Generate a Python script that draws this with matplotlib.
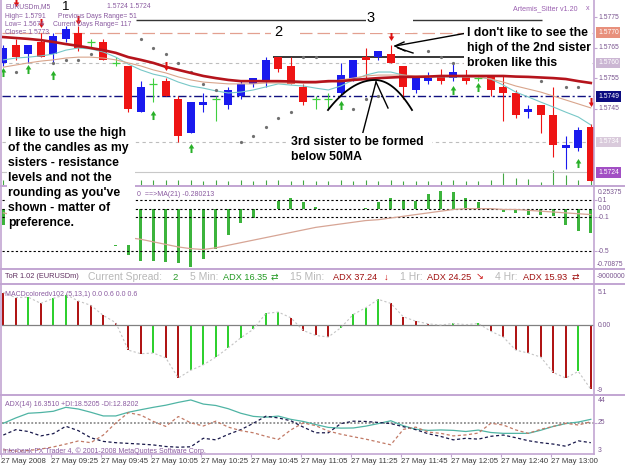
import numpy as np
import matplotlib
matplotlib.use("Agg")
import matplotlib.pyplot as plt
from matplotlib.patches import Rectangle
from matplotlib.lines import Line2D
from matplotlib.transforms import Affine2D

plt.rcParams["font.family"] = ["Liberation Sans", "DejaVu Sans"]

W, H = 625, 469
STEP, BAR0 = 12.5, 3.3          # bar spacing / first bar centre (px)
PLOT_L, PLOT_R = 2, 594         # chart windows, left/right edge (px)

# colours
BULL, BEAR, DOJI = "#1a1aee", "#ee1414", "#3fcf3f"
FRAME = "#c2a5d2"
AXTXT = "#7a5590"
INFO = "#8a5aa0"
nan = np.nan

# ---------------- data: EURUSDm M5, 27 May 2008 ----------------
opens = [1.5760, 1.5766, 1.5763, 1.5767, 1.5763, 1.5768, 1.5770, 1.5767, 1.5767, 1.5760,
         1.5759, 1.5744, 1.5753, 1.5754, 1.5748, 1.5737, 1.5746, 1.5748, 1.5746, 1.5749,
         1.5753, 1.5754, 1.5762, 1.5759, 1.5752, 1.5748, 1.5748, 1.5750, 1.5754, 1.5762,
         1.5762, 1.5763, 1.5759, 1.5751, 1.5754, 1.5756, 1.5755, 1.5756, 1.5755, 1.5756,
         1.5752, 1.5750, 1.5744, 1.5746, 1.5743, 1.5732, 1.5732, 1.5739]
highs = [1.5766, 1.5768, 1.5766, 1.5770, 1.5770, 1.5772, 1.5772, 1.5768, 1.5768, 1.5762,
         1.5759, 1.5754, 1.5755, 1.5755, 1.5749, 1.5747, 1.5750, 1.5749, 1.5752, 1.5754,
         1.5755, 1.5762, 1.5762, 1.5762, 1.5753, 1.5749, 1.5750, 1.5760, 1.5761, 1.5765,
         1.5764, 1.5766, 1.5759, 1.5755, 1.5757, 1.5758, 1.5760, 1.5758, 1.5756, 1.5756,
         1.5756, 1.5751, 1.5746, 1.5746, 1.5752, 1.5736, 1.5739, 1.5740]
lows = [1.5759, 1.5761, 1.5760, 1.5762, 1.5760, 1.5767, 1.5764, 1.5765, 1.5761, 1.5759,
        1.5744, 1.5744, 1.5747, 1.5749, 1.5734, 1.5737, 1.5744, 1.5741, 1.5745, 1.5748,
        1.5752, 1.5752, 1.5757, 1.5753, 1.5746, 1.5745, 1.5745, 1.5749, 1.5754, 1.5755,
        1.5761, 1.5760, 1.5748, 1.5750, 1.5753, 1.5753, 1.5754, 1.5753, 1.5754, 1.5749,
        1.5741, 1.5742, 1.5742, 1.5737, 1.5729, 1.5725, 1.5731, 1.5721]
closes = [1.5765, 1.5762, 1.5766, 1.5762, 1.5769, 1.5771, 1.5765, 1.5767, 1.5761, 1.5760,
          1.5745, 1.5752, 1.5753, 1.5749, 1.5736, 1.5747, 1.5747, 1.5748, 1.5751, 1.5753,
          1.5755, 1.5761, 1.5758, 1.5753, 1.5747, 1.5748, 1.5748, 1.5756, 1.5761, 1.5761,
          1.5764, 1.5760, 1.5752, 1.5755, 1.5755, 1.5754, 1.5757, 1.5754, 1.5755, 1.5751,
          1.5750, 1.5743, 1.5745, 1.5743, 1.5733, 1.5733, 1.5738, 1.5721]

ma_slow = [1.57685, 1.57682, 1.57679, 1.57675, 1.57669, 1.57662, 1.57656, 1.57649, 1.57642, 1.57633,
           1.57619, 1.57610, 1.57600, 1.57587, 1.57577, 1.57567, 1.57557, 1.57550, 1.57544, 1.57540,
           1.57540, 1.57540, 1.57540, 1.57539, 1.57537, 1.57537, 1.57540, 1.57540, 1.57544, 1.57547,
           1.57550, 1.57552, 1.57554, 1.57554, 1.57555, 1.57557, 1.57557, 1.57557, 1.57557, 1.57557,
           1.57557, 1.57555, 1.57554, 1.57552, 1.57550, 1.57547, 1.57540, 1.57534]
ma_fast = [1.57610, 1.57616, 1.57619, 1.57623, 1.57629, 1.57642, 1.57649, 1.57646, 1.57636, 1.57619,
           1.57596, 1.57577, 1.57563, 1.57554, 1.57537, 1.57524, 1.57517, 1.57508, 1.57501, 1.57504,
           1.57511, 1.57521, 1.57531, 1.57527, 1.57524, 1.57517, 1.57511, 1.57524, 1.57544, 1.57560,
           1.57570, 1.57570, 1.57560, 1.57554, 1.57554, 1.57554, 1.57554, 1.57554, 1.57554, 1.57547,
           1.57527, 1.57504, 1.57488, 1.57471, 1.57455, 1.57438, 1.57422, 1.57396]
ma_mid = [1.57586, 1.57593, 1.57600, 1.57606, 1.57610, 1.57616, 1.57619, 1.57619, 1.57616, 1.57610,
          1.57600, 1.57590, 1.57577, 1.57567, 1.57554, 1.57544, 1.57537, 1.57534, 1.57531, 1.57531,
          1.57531, 1.57534, 1.57534, 1.57534, 1.57534, 1.57534, 1.57537, 1.57544, 1.57550, 1.57557,
          1.57560, 1.57560, 1.57560, 1.57557, 1.57557, 1.57557, 1.57557, 1.57554, 1.57554, 1.57547,
          1.57537, 1.57524, 1.57514, 1.57504, 1.57491, 1.57478, 1.57465, 1.57452]
sar = [nan, 1.5757, nan, nan, 1.5760, 1.5761, 1.5761, 1.5763, nan, nan,
       nan, 1.5768, 1.5765, 1.5763, 1.5760, 1.5757, 1.5753, 1.5751, nan, 1.5734,
       1.5736, 1.5739, 1.5742, 1.5744, 1.5762, 1.5762, nan, nan, 1.5745, 1.5748,
       1.5749, nan, nan, nan, 1.5764, 1.5762, 1.5760, nan, nan, nan,
       nan, nan, nan, 1.5754, nan, 1.5752, 1.5752, nan]
up_bars = [0, 2, 4, 12, 15, 27, 36, 38, 46]
up_price = [1.5757, 1.5758, 1.5756, 1.5743, 1.5732, 1.5746, 1.5751, 1.5752, 1.5727]
dn_bars = [1, 3, 6, 13, 31, 37, 47]
dn_price = [1.5780, 1.5773, 1.5774, 1.5759, 1.5769, 1.5760, 1.5747]
volumes = [55, 50, 60, 55, 50, 60, 55, 50, 55, 60, 65, 55, 60, 55, 60, 55, 50, 55, 50, 55,
           50, 60, 55, 50, 55, 50, 45, 55, 50, 55, 50, 55, 50, 45, 50, 50, 55, 50, 45, 60,
           130, 80, 70, 40, 160, 110, 60, 150]
price_ticks = [1.5775, 1.5765, 1.5755, 1.5745]
level_prices = [1.5770, 1.5760, 1.5749, 1.5734, 1.5724]
level_boxes = ["#e8907c", "#cbb6d3", "#0c0c80", "#d9cadb", "#a24fc4"]

osma = [-0.19, -0.18, -0.15, -0.12, -0.10, -0.08, -0.05, -0.10, -0.20, -0.44,
        -0.55, -0.61, -0.61, -0.63, -0.64, -0.68, -0.59, -0.47, -0.31, -0.17,
        -0.11, -0.01, 0.09, 0.13, 0.08, 0.02, 0.0, 0.0, 0.0, 0.01,
        0.08, 0.13, 0.10, 0.09, 0.17, 0.21, 0.20, 0.13, 0.08, 0.01,
        -0.04, -0.05, -0.07, -0.08, -0.09, -0.19, -0.26, -0.29]
osma_ma = [-0.05, -0.08, -0.11, -0.14, -0.17, -0.20, -0.23, -0.26, -0.29, -0.32,
           -0.34, -0.36, -0.39, -0.42, -0.45, -0.47, -0.48, -0.46, -0.43, -0.40,
           -0.37, -0.34, -0.31, -0.28, -0.25, -0.22, -0.20, -0.18, -0.16, -0.14,
           -0.13, -0.11, -0.09, -0.07, -0.05, -0.03, -0.01, 0.0, 0.0, 0.0,
           -0.01, -0.01, -0.02, -0.03, -0.04, -0.05, -0.06, -0.07]
osma_levels = [0.1, 0.0, -0.1, -0.5]

macd = [4.25, 3.6, 3.65, 2.85, 3.5, 4.0, 3.16, 2.6, 1.29, 0.35,
        -3.2, -3.66, -3.57, -4.2, -6.8, -5.8, -5.1, -4.1, -2.9, -1.6,
        -0.5, 1.55, 1.73, 0.99, -0.66, -1.3, -1.5, -0.3, 1.42, 2.29,
        3.37, 2.85, 1.12, 0.55, 0.2, 0.05, 0.25, 0.1, 0.25, -0.75,
        -1.5, -3.2, -3.57, -4.1, -6.1, -6.8, -5.95, -8.25]

adx_main = [24.7, 28.5, 31.8, 32.3, 33.2, 36.0, 34.8, 32.5, 29.9, 29.9,
            32.5, 34.3, 36.0, 37.5, 39.5, 41.2, 38.3, 37.3, 35.0, 31.8,
            29.6, 29.0, 29.8, 27.5, 26.0, 23.8, 21.8, 21.3, 21.4, 22.7,
            24.5, 26.5, 23.0, 20.5, 19.7, 20.0, 19.7, 18.9, 19.9, 18.2,
            17.6, 17.6, 17.6, 19.8, 22.5, 24.5, 25.6, 27.5]
plus_di = [16.4, 20.2, 18.9, 15.8, 17.4, 22.6, 19.5, 14.5, 11.9, 11.0,
           10.5, 10.0, 9.4, 8.3, 7.8, 8.1, 14.1, 13.0, 16.9, 20.2,
           24.7, 29.7, 28.5, 26.5, 22.0, 18.0, 18.0, 24.5, 26.2, 26.0,
           25.3, 24.5, 22.3, 20.2, 17.3, 15.4, 13.0, 14.1, 13.5, 15.5,
           16.4, 14.5, 12.4, 11.0, 10.0, 8.5, 12.3, 11.0]
minus_di = [6.0, 5.0, 5.5, 6.5, 8.0, 10.0, 12.2, 11.0, 16.4, 25.0,
            32.2, 30.5, 26.0, 22.5, 29.5, 25.0, 22.8, 26.2, 22.0, 19.5,
            18.0, 15.5, 13.3, 20.0, 25.0, 23.0, 19.2, 17.0, 15.2, 13.5,
            11.5, 9.5, 20.4, 22.0, 18.5, 17.6, 15.8, 16.5, 17.8, 24.7,
            23.5, 20.0, 17.6, 20.5, 22.5, 24.7, 23.5, 25.8]

date_bars = [0, 4, 8, 12, 16, 20, 24, 28, 32, 36, 40, 44]
date_labels = ["27 May 2008", "27 May 09:25", "27 May 09:45", "27 May 10:05",
               "27 May 10:25", "27 May 10:45", "27 May 11:05", "27 May 11:25",
               "27 May 11:45", "27 May 12:05", "27 May 12:40", "27 May 13:00"]

# ---------------- figure helpers ----------------
fig = plt.figure(figsize=(W / 100, H / 100), dpi=100)
fig.patch.set_facecolor("white")
PX = Affine2D().scale(1 / W, -1 / H).translate(0, 1) + fig.transFigure
LBL_X = (598 - PLOT_L) / (PLOT_R - PLOT_L)


def window(y0, y1, ylim):
    ax = fig.add_axes([PLOT_L / W, 1 - y1 / H, (PLOT_R - PLOT_L) / W, (y1 - y0) / H])
    ax.set_xlim((PLOT_L - BAR0) / STEP, (PLOT_R - BAR0) / STEP)
    ax.set_ylim(*ylim)
    ax.set_axis_off()
    return ax


def ptext(x, y, s, size=5, color=INFO, **kw):
    kw.setdefault("va", "center")
    return fig.text(x, y, s, transform=PX, fontsize=size, color=color, **kw)


def pline(xs, ys, **kw):
    fig.add_artist(Line2D(xs, ys, transform=PX, **kw))


def white_box(x0, y0, x1, y1):
    fig.add_artist(Rectangle((x0, y0), x1 - x0, y1 - y0, transform=PX,
                             fc="white", ec="none", zorder=4))


def scale(ax, values, fmt, **kw):
    tr = ax.get_yaxis_transform()
    for v in values:
        ax.text(LBL_X, v, fmt.format(v), transform=tr, va="center", ha="left",
                fontsize=4.9, color=AXTXT, clip_on=False, **kw)
    ax.hlines(values, 1.0, 1.005, transform=tr, color=FRAME, lw=0.8, clip_on=False)


x = np.arange(len(opens))
o, h, l, c = (np.array(a) for a in (opens, highs, lows, closes))
up, dn = c > o + 1e-9, c < o - 1e-9
dj = ~(up | dn)

# ---------------- main window ----------------
ax_vol = window(0, 186, (0, 1860))
ax_vol.vlines(x, 0, volumes, color="#45a845", lw=0.8)

ax = window(0, 186, (1.57195, 1.57807))
ax.axhline(1.5770, color="#e3a090", lw=0.9, dashes=(10, 4))
ax.axhline(1.5760, color="#bdbdbd", lw=0.8, dashes=(3, 3))
ax.axhline(1.5749, color="#101080", lw=1.0, dashes=(6, 2, 1.5, 2))
ax.axhline(1.5734, color="#bdbdbd", lw=0.8, dashes=(3, 3))
ax.axhline(1.5724, color="#c8c8c8", lw=0.8)
ax.hlines(1.5774, 10.6, 43.1, color="#353535", lw=1.0)
ax.hlines(highs[22], 21.6, 37.1, color="black", lw=1.1)

ax.vlines(x[up], l[up], h[up], color=BULL, lw=0.8, zorder=3)
ax.bar(x[up], c[up] - o[up], bottom=o[up], width=0.62, color=BULL, zorder=4)
ax.vlines(x[dn], l[dn], h[dn], color=BEAR, lw=0.8, zorder=3)
ax.bar(x[dn], o[dn] - c[dn], bottom=c[dn], width=0.62, color=BEAR, zorder=4)
ax.vlines(x[dj], l[dj], h[dj], color=DOJI, lw=0.8, zorder=3)
ax.hlines(o[dj], x[dj] - 0.31, x[dj] + 0.31, color=DOJI, lw=0.9, zorder=3)

ax.plot(x, ma_fast, color="#78c8c8", lw=0.8, zorder=5)
ax.plot(x, ma_mid, color="#d9a58c", lw=0.8, zorder=5)
ax.plot(x, ma_slow, color="#b5141c", lw=1.9, zorder=6)
ax.plot(x, sar, ls="none", marker="o", ms=1.3, color="#707070", zorder=5)

UP = [(-0.22, -1.0), (0.22, -1.0), (0.22, 0.0), (0.62, 0.0), (0.0, 1.0), (-0.62, 0.0), (-0.22, 0.0)]
DN = [(px, -py) for px, py in UP]
ax.plot(up_bars, up_price, ls="none", marker=UP, ms=6.5, mew=0, color="#28b028", zorder=6)
ax.plot(dn_bars, dn_price, ls="none", marker=DN, ms=6.5, mew=0, color="#dd1010", zorder=6)

scale(ax, price_ticks, "{:.4f}")
for p, col in zip(level_prices, level_boxes):
    ax.text(LBL_X, p, f"{p:.4f}", transform=ax.get_yaxis_transform(), va="center", ha="left",
            fontsize=4.9, color="white", clip_on=False,
            bbox=dict(boxstyle="square,pad=0.25", fc=col, ec="none"))

# ---------------- OsMA window ----------------
ax_o = window(187, 269, (-0.70875, 0.25375))
ax_o.bar(x, osma, width=0.22, color="#3cb43c")
for lv in osma_levels:
    ax_o.axhline(lv, color="black", lw=0.8, dashes=(2, 2))
ax_o.plot(x, osma_ma, color="#d7a595", lw=0.9)
scale(ax_o, [0.1, -0.1, -0.5], "{:g}")
ax_o.text(LBL_X, 0, "0.00", transform=ax_o.get_yaxis_transform(), va="center",
          fontsize=4.9, color=AXTXT, clip_on=False)
ptext(598, 193, "0.25375", 4.9, AXTXT)
ptext(597, 265, "-0.70875", 4.9, AXTXT)
ptext(137, 195, "0  ==>MA(21) -0.280213", 5)

# ---------------- MACD window ----------------
ax_m = window(286, 395, (-9, 5.1))
mcol = ["#b01515" if i == 0 or macd[i] <= macd[i - 1] else "#2fd02f" for i in range(len(macd))]
ax_m.bar(x, macd, width=0.17, color=mcol)
ax_m.axhline(0, color="#808080", lw=0.9)
ax_m.plot(x, macd, color="#c4c4c4", lw=0.8, dashes=(2, 2))
ax_m.text(LBL_X, 0, "0.00", transform=ax_m.get_yaxis_transform(), va="center",
          fontsize=4.9, color=AXTXT, clip_on=False)
ptext(598, 293, "5.1", 4.9, AXTXT)
ptext(597, 390, "-9", 4.9, AXTXT)
ptext(5, 294, "MACDcoloredv102 (5,13,1) 0.0 0.6 0.0 0.6", 5)

# ---------------- ADX window ----------------
ax_a = window(396, 454, (3, 44))
ax_a.axhline(25, color="#7a7a7a", lw=1.1, dashes=(1.2, 1.2))
ax_a.plot(x, adx_main, color="#4fb4a4", lw=0.9)
ax_a.plot(x, plus_di, color="#18184a", lw=0.9, dashes=(2.5, 2))
ax_a.plot(x, minus_di, color="#c27a66", lw=0.9, dashes=(2.5, 2))
scale(ax_a, [25], "{:g}")
ptext(598, 401, "44", 4.9, AXTXT)
ptext(598, 450, "3", 4.9, AXTXT)
ptext(5, 404, "ADX(14) 16.3510 +DI:18.5205 -DI:12.8202", 5)
ptext(3, 451, "Interbank FX Trader 4, \u00a9 2001-2008 MetaQuotes Software Corp.", 5)

xt = ax_a.get_xaxis_transform()
ax_a.vlines(np.array(date_bars) - 0.2, -0.06, 0, transform=xt, color=FRAME, lw=0.8, clip_on=False)
for i, lab in zip(date_bars, date_labels):
    ax_a.text(i - 0.15, -0.13, lab, transform=xt, ha="left", va="center",
              fontsize=5.6, color="#3a3a3a", clip_on=False)

# ---------------- frame ----------------
pline([594, 594], [0, 454], color=FRAME, lw=1.2)
pline([1, 1], [0, 454], color=FRAME, lw=1.2)
for yy in (186, 269.5, 284.5, 395.5):
    pline([0, 625], [yy, yy], color=FRAME, lw=1.4)
pline([0, 594], [454.5, 454.5], color=FRAME, lw=1.2)

# ---------------- ToR status row ----------------
ptext(597, 277, "-9000000", 4.9, AXTXT)
tor = [(5, "ToR 1.02 (EURUSDm)", "#603060", 5.3), (88, "Current Spread:", "#b8b8b8", 7.5),
       (172, "2", "#2a9a2a", 6.8), (190, "5 Min:", "#b8b8b8", 7.5), (223, "ADX 16.35", "#229922", 6.6),
       (271, "\u21c4", "#229922", 6.5), (290, "15 Min:", "#b8b8b8", 7.5),
       (333, "ADX 37.24", "#a01010", 6.6), (384, "\u2193", "#cc1010", 6.8),
       (400, "1 Hr:", "#b8b8b8", 7.5), (427, "ADX 24.25", "#a01010", 6.6),
       (476, "\u2198", "#cc1010", 6.8), (495, "4 Hr:", "#b8b8b8", 7.5),
       (523, "ADX 15.93", "#a01010", 6.6), (572, "\u21c4", "#a01010", 6.5)]
for xx, s, col, fs in tor:
    ptext(xx, 277, s, fs, col)

# ---------------- chart header texts ----------------
ptext(5, 7, "EURUSDm,M5", 4.9)
ptext(107, 7, "1.5724 1.5724", 4.9)
ptext(5, 16, "High= 1.5791", 4.9)
ptext(58, 16, "Previous Days Range= 51", 4.9)
ptext(5, 24.5, "Low= 1.5674", 4.9)
ptext(53, 24.5, "Current Days Range= 117", 4.9)
ptext(5, 33, "Close= 1.5773", 4.9)
ptext(513, 9, "Artemis_Sitter v1.20", 5.1, "#9a5fb0")
ptext(586, 9, "x", 5.1, "#9a5fb0")

# ---------------- hand-drawn notes ----------------
white_box(7, 125, 135, 245)
white_box(271, 24, 300, 40)
white_box(366, 8, 413, 33.5)
white_box(464, 24, 592, 70)
white_box(288, 133, 432, 165)

left_note = ["I like to use the high", "of the candles as my", "sisters - resistance",
             "levels and not the", "rounding as you've", "shown - matter of", "preference."]
for k, s in enumerate(left_note):
    ptext(8, 133 + 15 * k, s, 8.8, "black", weight="bold", zorder=6)
right_note = ["I don't like to see the", "high of the 2nd sister", "broken like this"]
for k, s in enumerate(right_note):
    ptext(467, 33 + 15 * k, s, 8.8, "black", weight="bold", zorder=6)
for k, s in enumerate(["3rd sister to be formed", "below 50MA"]):
    ptext(291, 142 + 15 * k, s, 8.8, "black", weight="bold", zorder=6)

ptext(65.5, 6.5, "1", 9.5, "black", ha="center", zorder=6)
ptext(278, 32, "2", 10.5, "black", ha="center", zorder=6)
ptext(370.5, 17.5, "3", 10.5, "black", ha="center", zorder=6)

xs = np.linspace(328, 412, 80)
half = np.where(xs < 375, 47.0, 37.0)
pline(xs, 110 - 30 * (1 - ((xs - 375) / half) ** 2), color="black", lw=1.3)
pline([362, 376], [136, 82], color="black", lw=1.0)
pline([376, 388], [82, 108], color="black", lw=1.0)
pline([467, 395], [33, 46], color="black", lw=1.0)
pline([404, 395, 405], [42, 46, 51], color="black", lw=1.0)
pline([398, 413], [48, 53], color="black", lw=1.0)

fig.savefig("out.png", dpi=100, facecolor="white")
